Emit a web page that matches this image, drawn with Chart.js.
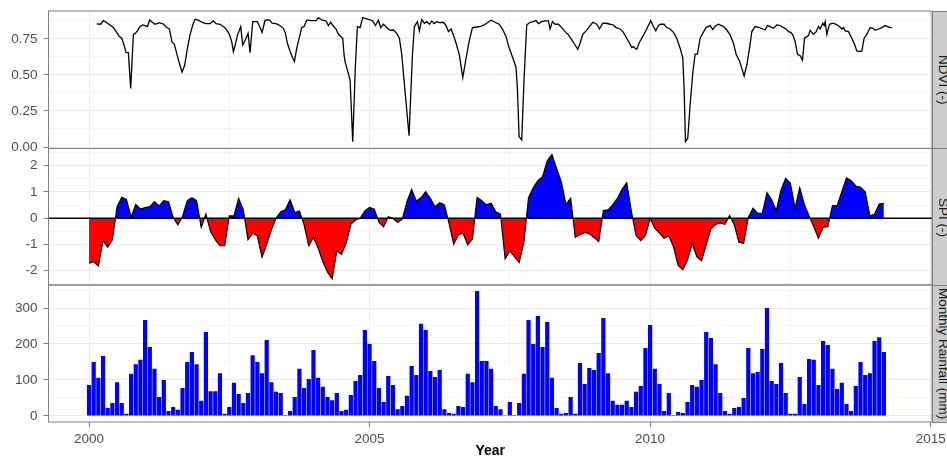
<!DOCTYPE html>
<html>
<head>
<meta charset="utf-8">
<script src="https://cdn.jsdelivr.net/npm/chart.js@4.4.0/dist/chart.umd.min.js"></script>
<style>
body{
    margin:0;
    width:947px;
    height:458px;
    overflow:hidden;
    background:#fff;
    position:relative;
    font-family:"Liberation Sans", Arial, sans-serif;
}
canvas{ position:absolute; left:0; }
.strip{
    position:absolute;
    left:932px;
    width:22px;
    box-sizing:border-box;
    background:#CCCCCC;
    border:1px solid #7F7F7F;
    display:flex;
    align-items:center;
    justify-content:center;
    writing-mode:vertical-rl;
    font-size:13.5px;
    color:#1A1A1A;
    white-space:nowrap;
}
</style>
</head>
<body>

<canvas id="ndviChart" width="947" height="160" style="top:0px"></canvas>
<canvas id="spiChart" width="947" height="160" style="top:140px"></canvas>
<canvas id="rainChart" width="947" height="181" style="top:277px"></canvas>

<div class="strip" style="top:11px;height:138px">NDVI (-)</div>
<div class="strip" style="top:148px;height:138px">SPI (-)</div>
<div class="strip" style="top:285px;height:138px">Monthly Rainfall (mm)</div>

<script>

// DATA

const startYear = 2000;

const xTicks = [2000, 2005, 2010, 2015];
const ndviTicks = [0, 0.25, 0.5, 0.75];
const spiTicks = [-2, -1, 0, 1, 2];
const rainTicks = [0, 100, 200, 300];

// monthly rainfall (mm), Jan 2000 - Mar 2014
const rainfall = [
    86,150,106,167,22,36,94,36,6,117,
    144,156,267,192,131,53,100,14,25,17,
    78,150,178,144,42,233,69,69,119,6,
    25,92,61,36,64,169,150,119,211,94,
    67,64,3,14,53,131,78,103,183,106,
    81,53,44,64,14,17,58,97,114,239,
    200,153,78,39,111,86,19,28,56,139,
    114,256,239,125,108,128,19,8,6,28,
    25,117,94,347,153,153,131,28,19,1,
    39,3,36,117,267,200,278,192,261,106,
    22,6,8,53,6,147,89,133,128,175,
    272,119,42,31,31,42,25,67,83,189,
    253,131,89,14,64,3,11,8,39,86,
    81,100,233,217,144,64,14,6,22,25,
    50,189,119,122,186,300,97,89,147,64,
    6,6,108,33,158,156,86,208,197,131,
    75,92,33,14,83,150,114,119,208,219,178
];

// monthly SPI, Jan 2000 - Mar 2014
const spi = [
    -1.71,-1.65,-1.82,-0.85,-1.10,-0.82,0.44,0.80,0.72,0.04,
    0.53,0.35,0.41,0.44,0.63,0.47,0.67,0.63,0.03,-0.25,
    0.06,0.67,0.78,0.67,-0.35,0.16,-0.51,-0.82,-1.04,-1.04,
    0.09,0.09,0.76,0.32,-0.82,-0.57,-0.67,-1.48,-0.99,-0.44,
    0,0.25,0.32,0.70,0.22,0.28,-0.25,-1.05,-0.72,-1.14,
    -1.65,-2.05,-2.30,-1.24,-1.37,-0.95,-0.23,-0.06,0,0.28,
    0.41,0.34,-0.15,-0.32,0.06,0,-0.16,-0.03,0.63,1.10,
    0.66,0.78,1.01,0.76,0.44,0.59,0.51,-0.19,-0.99,-0.63,
    -0.57,-1.01,-0.78,0.80,0.67,0.51,0.57,0.25,0.16,-1.55,
    -1.24,-1.46,-1.68,-0.92,0.78,1.16,1.43,1.58,2.19,2.43,
    1.90,1.39,0.53,0.76,-0.73,-0.63,-0.54,-0.59,-0.73,-0.89,
    0.29,0.32,0.51,0.76,1.10,1.35,0.25,-0.66,-0.85,-0.66,
    0,-0.38,-0.57,-0.76,-0.67,-1.08,-1.80,-1.96,-1.58,-0.97,
    -1.46,-1.62,-1.01,-0.40,-0.24,-0.18,-0.23,0.10,-0.25,-0.91,
    -0.95,0.03,0.38,0.19,0.19,0.97,0.70,0.29,1.08,1.52,
    1.33,0.38,1.16,0.51,0.09,-0.32,-0.76,-0.34,-0.32,0.48,
    0.48,1.01,1.54,1.43,1.23,1.18,1.01,0.09,0.15,0.54,0.57
];

// NDVI composites (decimal year / value)
const ndviYear = [
    2000.137,2000.208,2000.256,2000.303,2000.375,2000.434,2000.494,2000.541,2000.583,2000.624,
    2000.660,2000.701,2000.743,2000.791,2000.820,2000.862,2000.909,2000.957,2000.999,2001.040,
    2001.082,2001.117,2001.177,2001.254,2001.325,2001.385,2001.432,2001.480,2001.521,2001.563,
    2001.611,2001.658,2001.706,2001.753,2001.801,2001.848,2001.890,2001.949,2002.009,2002.086,
    2002.157,2002.217,2002.264,2002.336,2002.407,2002.454,2002.502,2002.543,2002.573,2002.609,
    2002.644,2002.704,2002.740,2002.799,2002.835,2002.870,2002.918,2003.001,2003.049,2003.084,
    2003.138,2003.215,2003.263,2003.334,2003.393,2003.465,2003.500,2003.536,2003.595,2003.661,
    2003.702,2003.791,2003.833,2003.880,2003.969,2004.046,2004.088,2004.147,2004.225,2004.266,
    2004.308,2004.344,2004.403,2004.445,2004.522,2004.546,2004.563,2004.605,2004.653,2004.700,
    2004.748,2004.783,2004.831,2004.878,2004.950,2005.009,2005.057,2005.104,2005.158,2005.199,
    2005.247,2005.306,2005.366,2005.425,2005.484,2005.532,2005.574,2005.633,2005.704,2005.764,
    2005.799,2005.853,2005.888,2005.930,2005.977,2006.019,2006.067,2006.108,2006.150,2006.197,
    2006.245,2006.316,2006.364,2006.405,2006.453,2006.494,2006.542,2006.601,2006.661,2006.720,
    2006.774,2006.833,2006.910,2006.982,2007.041,2007.100,2007.166,2007.237,2007.309,2007.374,
    2007.433,2007.475,2007.534,2007.576,2007.611,2007.635,2007.665,2007.712,2007.754,2007.801,
    2007.861,2007.920,2007.968,2008.009,2008.069,2008.128,2008.188,2008.217,2008.259,2008.306,
    2008.366,2008.425,2008.485,2008.544,2008.604,2008.663,2008.710,2008.752,2008.800,2008.859,
    2008.918,2008.978,2009.049,2009.097,2009.156,2009.216,2009.287,2009.346,2009.394,2009.465,
    2009.524,2009.584,2009.643,2009.673,2009.703,2009.732,2009.762,2009.810,2009.869,2009.940,
    2010.012,2010.059,2010.101,2010.148,2010.190,2010.249,2010.297,2010.356,2010.416,2010.475,
    2010.535,2010.582,2010.606,2010.630,2010.671,2010.713,2010.760,2010.802,2010.844,2010.891,
    2010.939,2010.998,2011.069,2011.117,2011.158,2011.218,2011.308,2011.367,2011.427,2011.486,
    2011.533,2011.593,2011.634,2011.676,2011.724,2011.771,2011.813,2011.872,2011.949,2012.009,
    2012.050,2012.092,2012.140,2012.199,2012.258,2012.318,2012.377,2012.425,2012.466,2012.508,
    2012.544,2012.585,2012.627,2012.674,2012.716,2012.752,2012.793,2012.823,2012.853,2012.912,
    2012.960,2013.001,2013.031,2013.078,2013.102,2013.120,2013.150,2013.197,2013.257,2013.316,
    2013.375,2013.417,2013.447,2013.476,2013.536,2013.595,2013.637,2013.684,2013.732,2013.774,
    2013.815,2013.863,2013.922,2013.970,2014.011,2014.071,2014.130,2014.189,2014.231,2014.279,
    2014.308
];

const ndviValue = [
    0.854,0.852,0.877,0.866,0.847,0.829,0.796,0.766,0.755,0.708,
    0.657,0.655,0.407,0.782,0.787,0.806,0.836,0.847,0.843,0.836,
    0.882,0.870,0.852,0.863,0.854,0.829,0.819,0.727,0.713,0.650,
    0.581,0.519,0.569,0.685,0.778,0.847,0.887,0.880,0.866,0.856,
    0.856,0.875,0.856,0.852,0.833,0.813,0.782,0.731,0.662,0.713,
    0.773,0.836,0.708,0.755,0.789,0.655,0.870,0.870,0.829,0.796,
    0.880,0.882,0.859,0.856,0.845,0.824,0.789,0.720,0.650,0.593,
    0.685,0.829,0.836,0.880,0.877,0.877,0.898,0.882,0.875,0.843,
    0.866,0.843,0.819,0.782,0.755,0.639,0.593,0.535,0.465,0.037,
    0.569,0.836,0.829,0.898,0.889,0.882,0.875,0.843,0.880,0.829,
    0.852,0.829,0.810,0.812,0.789,0.755,0.639,0.384,0.079,0.639,
    0.836,0.870,0.806,0.884,0.859,0.870,0.852,0.875,0.856,0.870,
    0.863,0.866,0.843,0.801,0.819,0.778,0.720,0.639,0.481,0.616,
    0.731,0.829,0.833,0.838,0.847,0.863,0.880,0.866,0.852,0.815,
    0.766,0.704,0.639,0.593,0.551,0.407,0.072,0.049,0.477,0.847,
    0.866,0.870,0.877,0.856,0.870,0.875,0.875,0.819,0.870,0.852,
    0.852,0.829,0.801,0.778,0.743,0.708,0.678,0.720,0.782,0.806,
    0.836,0.866,0.852,0.819,0.859,0.859,0.852,0.847,0.829,0.819,
    0.796,0.755,0.713,0.690,0.697,0.685,0.678,0.727,0.766,0.819,
    0.877,0.836,0.806,0.843,0.852,0.852,0.829,0.819,0.796,0.755,
    0.685,0.620,0.407,0.037,0.060,0.292,0.512,0.644,0.644,0.755,
    0.789,0.829,0.843,0.815,0.838,0.852,0.836,0.812,0.778,0.720,
    0.644,0.597,0.546,0.493,0.569,0.685,0.801,0.836,0.829,0.819,
    0.812,0.843,0.836,0.824,0.847,0.843,0.829,0.819,0.801,0.796,
    0.778,0.731,0.644,0.634,0.604,0.755,0.766,0.773,0.810,0.782,
    0.801,0.836,0.819,0.859,0.843,0.870,0.782,0.852,0.859,0.852,
    0.836,0.819,0.829,0.806,0.801,0.755,0.720,0.667,0.662,0.667,
    0.755,0.782,0.829,0.824,0.810,0.819,0.829,0.843,0.836,0.829,
    0.829
];

// STYLE

const X_MIN = 1999.278;
const X_MAX = 2015.024;
const AXIS_LEFT = 48.5;

const GRID_MAJOR = "#EBEBEB";
const GRID_MINOR = "#F5F5F5";
const AXIS_GREY = "#7F7F7F";
const TEXT_GREY = "#4D4D4D";
const FONT = "'Liberation Sans', Arial, sans-serif";

Chart.defaults.font.family = FONT;
Chart.defaults.animation = false;

// major ticks plus the half-way minor lines (ggplot style)
function withMinor(major, min, max){

    let step = major[1] - major[0];
    let out = [];

    major.forEach(v => {
        if(v >= min && v <= max) out.push({value:v, major:true});
    });

    for(let i = 0; i <= major.length; i++){
        let v = major[0] + (i - 0.5) * step;
        if(v > min && v < max) out.push({value:v, major:false});
    }

    return out.sort((a, b) => a.value - b.value);
}

function gridColor(c){
    return c.tick && c.tick.major ? GRID_MAJOR : GRID_MINOR;
}

function tickColor(c){
    return c.tick && c.tick.major ? AXIS_GREY : "rgba(0,0,0,0)";
}

function xScale(showLabels){

    return {
        type:"linear",
        min:X_MIN,
        max:X_MAX,
        offset:false,
        afterBuildTicks: s => { s.ticks = withMinor(xTicks, X_MIN, X_MAX); },
        afterFit: s => {
            s.height = showLabels ? 36 : 0;
            s.paddingLeft = 0;
            s.paddingRight = 0;
        },
        border:{ display:false },
        grid:{
            offset:false,
            color:gridColor,
            tickColor:tickColor,
            tickLength:5,
            drawTicks:showLabels
        },
        ticks:{
            display:showLabels,
            autoSkip:false,
            maxRotation:0,
            padding:4,
            color:TEXT_GREY,
            font:{ size:13.5 },
            callback:(v, i, t) => t[i].major ? String(v) : ""
        },
        title:{
            display:showLabels,
            text:"Year",
            color:"#000",
            padding:0,
            font:{ size:14, weight:"bold", lineHeight:1 }
        }
    };
}

function yScale(ticks, min, max, fmt){

    return {
        min:min,
        max:max,
        afterBuildTicks: s => { s.ticks = withMinor(ticks, min, max); },
        afterFit: s => {
            s.width = AXIS_LEFT;
            s.paddingTop = 0;
            s.paddingBottom = 0;
        },
        border:{ display:false },
        grid:{
            color:gridColor,
            tickColor:tickColor,
            tickLength:5
        },
        ticks:{
            autoSkip:false,
            padding:6,
            color:TEXT_GREY,
            font:{ size:13.5 },
            callback:(v, i, t) => t[i].major ? fmt(v) : ""
        }
    };
}

// panel frame
const framePlugin = {
    id:"frame",
    afterDraw(chart){
        let a = chart.chartArea;
        let ctx = chart.ctx;
        ctx.save();
        ctx.strokeStyle = AXIS_GREY;
        ctx.lineWidth = 1;
        ctx.strokeRect(a.left, a.top, a.right - a.left, a.bottom - a.top);
        ctx.restore();
    }
};

// zero line on SPI
const zeroLinePlugin = {
    id:"zeroLine",
    afterDatasetsDraw(chart){
        let a = chart.chartArea;
        let y = chart.scales.y.getPixelForValue(0);
        let ctx = chart.ctx;
        ctx.save();
        ctx.strokeStyle = "#000";
        ctx.lineWidth = 1.5;
        ctx.beginPath();
        ctx.moveTo(a.left, y);
        ctx.lineTo(a.right, y);
        ctx.stroke();
        ctx.restore();
    }
};

const baseOptions = {
    responsive:false,
    plugins:{
        legend:{ display:false },
        tooltip:{ enabled:false }
    },
    events:[]
};

let months = rainfall.map((_, i) => startYear + i / 12);

// NDVI

new Chart(document.getElementById("ndviChart"),{

    type:"line",

    data:{
        datasets:[{
            data:ndviYear.map((x, i) => ({ x:x, y:ndviValue[i] })),
            borderColor:"#000",
            borderWidth:1.3,
            pointRadius:0,
            fill:false
        }]
    },

    options:{
        ...baseOptions,
        layout:{ padding:{ top:11, bottom:11.5, left:0, right:15 } },
        scales:{
            x:xScale(false),
            y:yScale(ndviTicks, -0.0104, 0.944, v => v.toFixed(2))
        }
    },

    plugins:[framePlugin]
});

// SPI

new Chart(document.getElementById("spiChart"),{

    type:"line",

    data:{
        datasets:[{
            data:spi.map((v, i) => ({ x:months[i], y:v })),
            borderColor:"#000",
            borderWidth:1.2,
            pointRadius:0,
            fill:{
                target:{ value:0 },
                above:"#0000FF",
                below:"#FF0000"
            }
        }]
    },

    options:{
        ...baseOptions,
        layout:{ padding:{ top:8.5, bottom:15, left:0, right:15 } },
        scales:{
            x:xScale(false),
            y:yScale(spiTicks, -2.543, 2.657, v => String(v))
        }
    },

    plugins:[framePlugin, zeroLinePlugin]
});

// RAINFALL

new Chart(document.getElementById("rainChart"),{

    type:"bar",

    data:{
        datasets:[{
            data:rainfall.map((v, i) => ({ x:months[i], y:v })),
            backgroundColor:"#0000FF",
            borderWidth:0,
            barPercentage:0.9,
            categoryPercentage:1
        }]
    },

    options:{
        ...baseOptions,
        layout:{ padding:{ top:8, bottom:0, left:0, right:15 } },
        scales:{
            x:xScale(true),
            y:yScale(rainTicks, -16.7, 363.9, v => String(v))
        }
    },

    plugins:[framePlugin]
});

</script>
</body>
</html>
